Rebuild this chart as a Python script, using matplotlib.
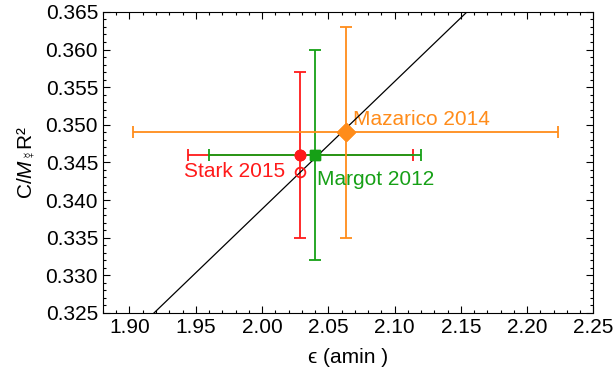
import numpy as np
import matplotlib
matplotlib.use("Agg")
import matplotlib.pyplot as plt
from matplotlib.ticker import MultipleLocator

plt.rcParams['font.family'] = ['Liberation Sans', 'DejaVu Sans']
plt.rcParams['mathtext.fontset'] = 'custom'
plt.rcParams['mathtext.rm'] = 'Liberation Sans'
plt.rcParams['mathtext.it'] = 'Liberation Sans:italic'

# obliquity (arcmin) and moment of inertia estimates
names = ['Stark 2015', 'Margot 2012', 'Mazarico 2014']
eps = [2.029, 2.040, 2.063]
eps_err = [0.085, 0.080, 0.160]
cmr = [0.346, 0.346, 0.349]
cmr_err = [0.011, 0.014, 0.014]
colors = ['#ff1a1a', '#16a016', '#ff8c1a']
markers = ['o', 's', 'D']
msizes = [7.5, 7, 9]

# Cassini-state relation C/MR^2 = k * eps
k_slope = 0.1694
eps_line = np.array([1.88, 2.25])

fig = plt.figure(figsize=(6.13, 3.83), dpi=100)
ax = fig.add_axes([0.168, 0.183, 0.8, 0.786])

ax.plot(eps_line, k_slope * eps_line, color='black', lw=0.9, zorder=4)

for i in range(len(names)):
    ax.errorbar(eps[i], cmr[i], xerr=eps_err[i], yerr=cmr_err[i],
                fmt=markers[i], color=colors[i], ms=msizes[i],
                mec=colors[i], elinewidth=1.3, capsize=4, capthick=1.3,
                zorder=3)
    ax.plot(eps[i], cmr[i], markers[i], color=colors[i], ms=msizes[i],
            zorder=5)

# Stark value projected onto the relation
ax.plot(eps[0], k_slope * eps[0], 'o', mfc='none', mec=colors[0],
        ms=7, mew=1.3, zorder=6)

ax.text(2.0174, 0.3431, names[0], color=colors[0], fontsize=15,
        ha='right', va='baseline')
ax.text(2.0416, 0.3420, names[1], color=colors[1], fontsize=15,
        ha='left', va='baseline')
ax.text(2.069, 0.3500, names[2], color=colors[2], fontsize=15,
        ha='left', va='baseline')

ax.set_xlim(1.88, 2.25)
ax.set_ylim(0.325, 0.365)
ax.xaxis.set_major_locator(MultipleLocator(0.05))
ax.xaxis.set_minor_locator(MultipleLocator(0.01))
ax.yaxis.set_major_locator(MultipleLocator(0.005))
ax.yaxis.set_minor_locator(MultipleLocator(0.001))
ax.xaxis.set_major_formatter(plt.FormatStrFormatter('%.2f'))
ax.yaxis.set_major_formatter(plt.FormatStrFormatter('%.3f'))
ax.tick_params(which='both', direction='in', top=True, right=True,
               labelsize=15, width=0.8)
ax.tick_params(which='major', length=5)
ax.tick_params(which='minor', length=2.5)

ax.set_xlabel('\u03f5 (amin )', fontsize=15, labelpad=8)
ax.set_ylabel('C/$\\mathit{M}_{\u263f}$R\u00b2', fontsize=15, labelpad=6)

fig.savefig('out.png', dpi=100)
